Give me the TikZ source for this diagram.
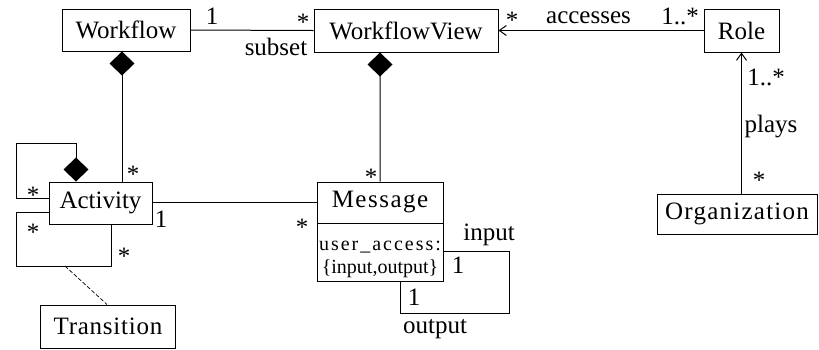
\documentclass[tikz,border=0pt]{standalone}
\usepackage{fontspec}
\setmainfont{Liberation Serif}
\usetikzlibrary{arrows.meta,calc}
\begin{document}
\begin{tikzpicture}[x=1bp,y=-1bp,
  line width=1bp,
  every node/.style={font=\fontsize{25bp}{30bp}\selectfont, inner sep=0pt},
  box/.style={draw, rectangle, line width=1bp},
  lbl/.style={anchor=base},
  compose/.style={{Diamond[length=24bp,width=25bp]}-},
  navig/.style={-{Straight Barb[length=7bp,width=10bp]}},
]
\useasboundingbox (0,0) rectangle (819,349);

% classes
\node[box, minimum width=128bp, minimum height=42bp] (wf)  at (126,30)    {Workflow};
\node[box, minimum width=184bp, minimum height=43bp] (wfv) at (406,30.5)  {WorkflowView};
\node[box, minimum width=75bp,  minimum height=43bp] (role) at (741.5,30.5) {Role};
\node[box, minimum width=160bp, minimum height=40bp] (org) at (737,214)   {\addfontfeature{LetterSpace=5}Organization};
\node[box, minimum width=103bp, minimum height=42bp] (act) at (100.5,203) {Activity};
\node[box, minimum width=134bp, minimum height=43bp] (trans) at (108,326.5) {\addfontfeature{LetterSpace=3}Transition};
\node[box, minimum width=126bp, minimum height=41bp] (msg) at (380,202.5) {\addfontfeature{LetterSpace=6}Message};
\node[box, minimum width=126bp, minimum height=58bp] (msga) at (380,252) {};
\node[anchor=base, font=\fontsize{20bp}{22bp}\selectfont] (ua) at (380,250) {\addfontfeature{LetterSpace=10}user\_access:};
\node[anchor=base, font=\fontsize{20bp}{22bp}\selectfont] (io) at (380,273) {\{input,output\}};

% associations
\draw (wf.east) -- (wfv.west);
\draw[navig] (role.west) -- (wfv.east);
\draw[navig] (role.south |- org.north) -- (role.south);
\draw (act.east |- msg.west) -- (msg.west);

% compositions
\draw[compose] ([xshift=-4bp]wf.south) -- ([xshift=-4bp]wf.south |- act.north);
\draw[compose] ([xshift=-26bp]wfv.south) -- (msg.north);

% Activity: composite self association
\draw[compose] ([xshift=-24.5bp]act.north) |- (16,143) |- ([yshift=5bp]act.west);
% Activity: transitions between activities
\coordinate (tr) at (65,266);
\draw ([yshift=-9bp]act.west) -| (16,266) -| ([xshift=10.5bp]act.south);
\draw[dashed, dash pattern=on 4bp off 2bp, line width=0.7bp] (tr) -- ([xshift=-1bp]trans.north);

% Message: input/output self association
\draw ([yshift=1bp]msga.east) -| (509,313) -| ([xshift=20bp]msga.south);

% multiplicities and role names
\node[lbl] at (212,24) {1};
\node[lbl] at (303,30) {*};
\node[lbl] at (276,55) {subset};
\node[lbl] at (512,28) {*};
\node[lbl] at (588.5,23) {accesses};
\node[lbl] at (680,24) {1..*};
\node[lbl] at (766,85) {1..*};
\node[lbl] at (771,132) {plays};
\node[lbl] at (759,188) {*};
\node[lbl] at (133,182) {*};
\node[lbl] at (33,203) {*};
\node[lbl] at (33,240) {*};
\node[lbl] at (124,264) {*};
\node[lbl] at (161,227) {1};
\node[lbl] at (302,235) {*};
\node[lbl] at (371,185) {*};
\node[lbl] at (489,240) {input};
\node[lbl] at (458,273) {1};
\node[lbl] at (414,305) {1};
\node[lbl] at (435,333) {output};
\end{tikzpicture}
\end{document}
